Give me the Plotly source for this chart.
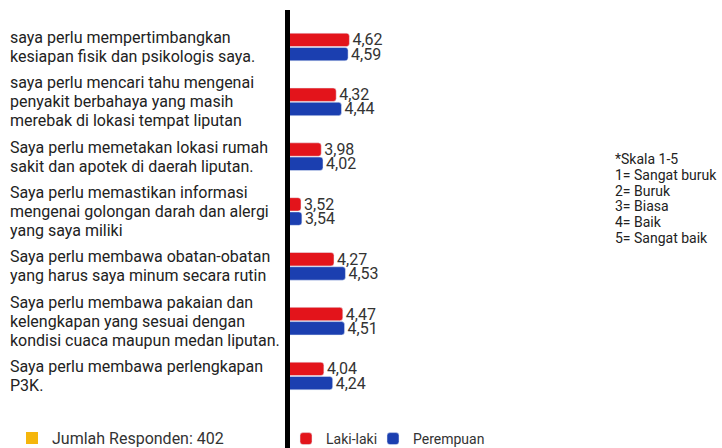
import plotly.graph_objects as go

# ---- data ----
pernyataan = [
    "saya perlu mempertimbangkan<br>kesiapan fisik dan psikologis saya.",
    "saya perlu mencari tahu mengenai<br>penyakit berbahaya yang masih<br>merebak di lokasi tempat liputan",
    "Saya perlu memetakan lokasi rumah<br>sakit dan apotek di daerah liputan.",
    "Saya perlu memastikan informasi<br>mengenai golongan darah dan alergi<br>yang saya miliki",
    "Saya perlu membawa obatan-obatan<br>yang harus saya minum secara rutin",
    "Saya perlu membawa pakaian dan<br>kelengkapan yang sesuai dengan<br>kondisi cuaca maupun medan liputan.",
    "Saya perlu membawa perlengkapan<br>P3K.",
]
laki_laki = [4.62, 4.32, 3.98, 3.52, 4.27, 4.47, 4.04]
perempuan = [4.59, 4.44, 4.02, 3.54, 4.53, 4.51, 4.24]
skala = ["*Skala 1-5", "1= Sangat buruk", "2= Buruk", "3= Biasa", "4= Baik", "5= Sangat baik"]
catatan_responden = "Jumlah Responden: 402"

# ---- style / layout constants ----
W, H = 722, 448
ML, MT = 290, 10
PW, PH = W - ML, H - MT
FONT = "Roboto"
RED = "#e3141b"
BLUE = "#1b3fb0"
X0 = 3.27
PX_PER_UNIT = 44.0

def px_x(px):
    return (px - ML) / PW

def px_y(py):
    return (H - py) / PH

fig = go.Figure()
fig.add_trace(go.Bar(
    name="Laki-laki", y=pernyataan, x=laki_laki, orientation="h",
    marker=dict(color=RED), texttemplate="%{x:.2f}", textposition="outside",
    textfont=dict(size=16, color="#333333", family=FONT),
    constraintext="none", cliponaxis=False, legendwidth=42,
))
fig.add_trace(go.Bar(
    name="Perempuan", y=pernyataan, x=perempuan, orientation="h",
    marker=dict(color=BLUE), texttemplate="%{x:.2f}", textposition="outside",
    textfont=dict(size=16, color="#333333", family=FONT),
    constraintext="none", cliponaxis=False,
))

annotations = []
LINE_H = 19
for cat in pernyataan:
    lines = cat.split("<br>")
    n = len(lines)
    for i, ln in enumerate(lines):
        annotations.append(dict(
            xref="paper", yref="y", x=px_x(8), y=cat, xanchor="left", yanchor="middle",
            text=ln, showarrow=False, align="left",
            yshift=((n - 1) / 2 - i) * LINE_H,
            font=dict(size=16, color="#222222", family=FONT),
        ))

for i, ln in enumerate(skala):
    annotations.append(dict(
        xref="paper", yref="paper", x=px_x(613), y=px_y(159 + i * 15.8),
        xanchor="left", yanchor="middle", text=ln, showarrow=False,
        font=dict(size=14, color="#222222", family=FONT),
    ))

annotations.append(dict(
    xref="paper", yref="paper", x=px_x(50), y=px_y(438), xanchor="left", yanchor="middle",
    text=catatan_responden, showarrow=False,
    font=dict(size=16, color="#333333", family=FONT),
))

shapes = [dict(
    type="rect", xref="paper", yref="paper",
    x0=px_x(26), x1=px_x(38), y0=px_y(444), y1=px_y(432),
    fillcolor="#f5b60c", line=dict(width=0),
)]

# category index 0 centred at y=47px, index 6 at y=376px
step = (376 - 47) / 6
y_top = -(47 - MT) / step
y_bot = y_top + PH / step

fig.update_layout(
    width=W, height=H,
    margin=dict(l=ML, r=0, t=MT, b=0, autoexpand=False),
    paper_bgcolor="white", plot_bgcolor="white",
    barmode="group", bargap=0.48, bargroupgap=0.06, barcornerradius=3,
    separators=",.",
    font=dict(family=FONT, color="#333333"),
    xaxis=dict(visible=False, range=[X0, X0 + PW / PX_PER_UNIT]),
    yaxis=dict(
        type="category", range=[y_bot, y_top], showticklabels=False,
        showline=True, linewidth=5, linecolor="black", showgrid=False,
        ticks="", zeroline=False,
    ),
    legend=dict(
        orientation="h", x=px_x(286), xanchor="left", y=-0.016, yanchor="bottom",
        font=dict(size=14, color="#333333", family=FONT),
        bgcolor="rgba(0,0,0,0)", traceorder="normal",
    ),
    annotations=annotations,
    shapes=shapes,
    showlegend=True,
)

fig.write_html(
    "out.html",
    config={"displayModeBar": False},
    post_script="document.body.style.margin='0';document.body.style.overflow='hidden';",
)
